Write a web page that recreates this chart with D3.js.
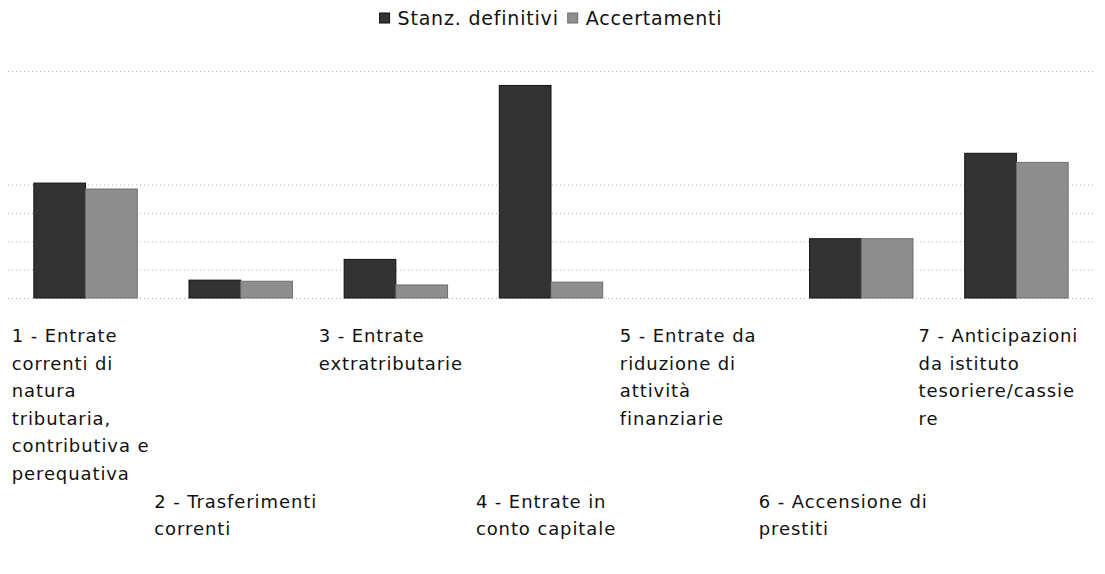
<!DOCTYPE html>
<html>
<head>
<meta charset="utf-8">
<script src="https://cdn.jsdelivr.net/npm/d3@7"></script>
<style>
  body { margin: 0; background: #fff; }
  svg text { font-family: "DejaVu Sans", sans-serif; fill: #111; }
</style>
</head>
<body>
<svg id="chart"></svg>
<script>
const categories = [
  ["1 - Entrate", "correnti di", "natura", "tributaria,", "contributiva e", "perequativa"],
  ["2 - Trasferimenti", "correnti"],
  ["3 - Entrate", "extratributarie"],
  ["4 - Entrate in", "conto capitale"],
  ["5 - Entrate da", "riduzione di", "attività", "finanziarie"],
  ["6 - Accensione di", "prestiti"],
  ["7 - Anticipazioni", "da istituto", "tesoriere/cassie", "re"]
];
const seriesNames = ["Stanz. definitivi", "Accertamenti"];
const stanziamenti = [4.05, 0.63, 1.36, 7.49, 0, 2.09, 5.1];
const accertamenti = [3.84, 0.59, 0.46, 0.56, 0, 2.09, 4.78];
const gridTicks = [0, 1, 2, 3, 4, 8];

const width = 1105, height = 574;
const margin = {top: 71, right: 11, bottom: 276, left: 8};
const colors = ["#333333", "#8e8e8e"];
const strokes = ["#111111", "#6e6e6e"];

const svg = d3.select("#chart").attr("width", width).attr("height", height);

const x = d3.scaleBand()
  .domain(d3.range(categories.length))
  .range([margin.left, width - margin.right])
  .paddingInner(1/3).paddingOuter(1/6);
const xs = d3.scaleBand().domain([0, 1]).range([0, x.bandwidth()]);
const y = d3.scaleLinear().domain([0, 8]).range([height - margin.bottom, margin.top]);

// gridlines
svg.append("g")
  .selectAll("line")
  .data(gridTicks)
  .join("line")
  .attr("x1", margin.left)
  .attr("x2", width - margin.right)
  .attr("y1", d => y(d) + 0.5)
  .attr("y2", d => y(d) + 0.5)
  .attr("stroke", "#b0b0b0")
  .attr("stroke-width", 1)
  .attr("stroke-dasharray", "1,3");

const data = [stanziamenti, accertamenti];
data.forEach((vals, s) => {
  svg.append("g")
    .selectAll("rect")
    .data(vals)
    .join("rect")
    .attr("x", (d, i) => x(i) + xs(s))
    .attr("y", d => y(d))
    .attr("width", xs.bandwidth())
    .attr("height", d => y(0) - y(d))
    .attr("fill", colors[s])
    .attr("stroke", d => d > 0 ? strokes[s] : "none")
    .attr("stroke-width", 1);
});

// category labels, staggered in two rows; block roughly centred under the group, lines left aligned
// (the right-hand labels sit a bit further left in the original)
const lineH = 27.6;
const labels = svg.append("g").attr("font-size", 18).attr("letter-spacing", 0.9);
categories.forEach((lines, i) => {
  const row = i % 2;
  const y0 = 342 + row * 6 * lineH;
  const t = labels.append("text");
  const spans = lines.map((l, k) => t.append("tspan").attr("y", y0 + k * lineH).text(l));
  const w = d3.max(spans, s => s.node().getComputedTextLength());
  const x0 = x(i) + x.bandwidth() / 2 - w / 2 - (i >= 4 ? 18 : 5);
  spans.forEach(s => s.attr("x", x0));
});

// legend
const legend = svg.append("g").attr("font-size", 19).attr("letter-spacing", 0.8);
let lx = 0;
seriesNames.forEach((name, s) => {
  legend.append("rect")
    .attr("x", lx).attr("y", 13).attr("width", 10).attr("height", 10)
    .attr("fill", colors[s]).attr("stroke", strokes[s]);
  const t = legend.append("text").attr("x", lx + 18).attr("y", 25).text(name);
  lx += 18 + t.node().getComputedTextLength() + 9;
});
const lw = lx - 9;
legend.attr("transform", `translate(${551 - lw / 2},0)`);
</script>
</body>
</html>
